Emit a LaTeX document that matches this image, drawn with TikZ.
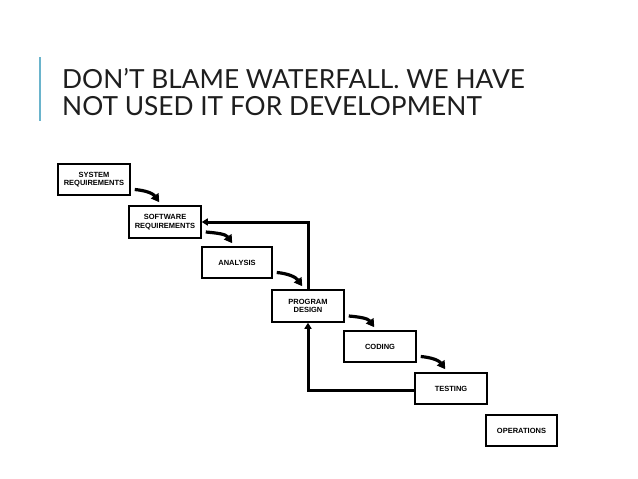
\documentclass[tikz,border=0pt]{standalone}
\usepackage{fontspec}
\setmainfont{Liberation Sans}
\newfontfamily\titlefont{Lato}
\usetikzlibrary{arrows.meta}
\definecolor{barblue}{HTML}{6AB4CC}
\definecolor{titlegray}{HTML}{1E1E1E}
\tikzset{
  box/.style={draw=black, line width=1.5pt, minimum width=72pt, minimum height=31pt, inner sep=0pt, align=center, font=\bfseries\fontsize{7.5}{8.5}\selectfont, fill=white},
  flow/.style={line width=3.2pt, -{Triangle[length=8pt,width=9pt]}},
  fb/.style={line width=3pt, -{Triangle[length=6pt,width=7pt]}},
  ttl/.style={anchor=base west, inner sep=0pt, font=\titlefont\fontsize{26.3}{30}\selectfont, text=titlegray}
}
\begin{document}
\begin{tikzpicture}[x=1pt,y=-1pt]
\useasboundingbox (0,0) rectangle (638,479);
\fill[white] (0,0) rectangle (638,479);
\draw[barblue, line width=2pt] (40,57) coordinate (b1) -- (40,121) coordinate (b2);
\node[ttl] (t1) at (62,88) {DON’T BLAME WATERFALL. WE HAVE};
\node[ttl] (t2) at (62,115) {NOT USED IT FOR DEVELOPMENT};

\node[box] (sys) at (94,179.5) {SYSTEM\\REQUIREMENTS};
\node[box, minimum height=32pt] (soft) at (165,222) {SOFTWARE\\REQUIREMENTS};
\node[box, minimum width=70pt] (ana) at (237,262.5) {ANALYSIS};
\node[box, minimum height=32pt] (pd) at (308,306) {PROGRAM\\DESIGN};
\node[box] (cod) at (380,346.5) {CODING};
\node[box] (tst) at (451,388.5) {TESTING};
\node[box, minimum width=71pt] (ops) at (521.5,430.5) {OPERATIONS};

\foreach \a/\b in {sys/soft, soft/ana, ana/pd, pd/cod, cod/tst}{
  \draw[flow] ([xshift=4pt,yshift=-10pt]\a.east) to[out=-5,in=125] ([xshift=31pt,yshift=3pt]\b.north west);
}

\draw[fb] (pd.north) |- (soft.east);
\draw[fb] ([yshift=-1.5pt]tst.west) -| (pd.south);
\end{tikzpicture}
\end{document}
